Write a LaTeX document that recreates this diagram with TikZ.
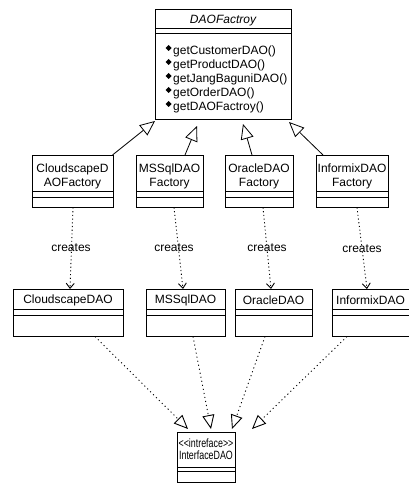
\documentclass[tikz,border=0pt]{standalone}
\usepackage{fontspec}
\setmainfont{Liberation Sans}
\newfontfamily\narrowfont[FakeStretch=0.74]{Liberation Sans}
\usetikzlibrary{arrows.meta}
\newcommand\classbox[7]{%
  \node[box, minimum width={#4-#2}, minimum height={#5-#3}] (#1) at ({(#2+#4)/2},{(#3+#5)/2}) {};
  \draw[sepline] (#2,#6) -- (#4,#6) (#2,#7) -- (#4,#7);}
\begin{document}
\begin{tikzpicture}[x=1pt,y=-1pt,
  box/.style={draw, line width=0.9pt, inner sep=0pt, outer sep=0pt},
  sepline/.style={line width=0.9pt},
  txt/.style={inner sep=0pt, font=\fontsize{12}{14}\selectfont, align=center},
  mtxt/.style={inner sep=0pt, font=\fontsize{12}{14}\selectfont, anchor=west},
  itxt/.style={inner sep=0pt, font=\narrowfont\fontsize{12}{12}\selectfont, align=center},
  inherit/.style={line width=0.8pt, -{Triangle[open, length=15pt, width=13pt]}},
  creates/.style={line width=0.9pt, dash pattern=on 1.1pt off 2.6pt, -{Straight Barb[length=5pt, width=8pt]}},
  realize/.style={line width=0.9pt, dash pattern=on 1.1pt off 3pt, -{Triangle[open, length=14pt, width=12pt]}},
  lbl/.style={inner sep=0pt, font=\fontsize{12}{14}\selectfont}]
\useasboundingbox (0,0) rectangle (409,484);
\fill[white] (0,0) rectangle (409,484);
\clip (0,0) rectangle (409,484);

% DAOFactroy
\classbox{DF}{155}{9}{291}{119}{28}{33}
\node[txt, font=\fontsize{12}{14}\selectfont\itshape] (DFt) at (223,20.5) {DAOFactroy};
\foreach \i/\t in {1/getCustomerDAO(),2/getProductDAO(),3/getJangBaguniDAO(),4/getOrderDAO(),5/getDAOFactroy()}{
  \pgfmathsetmacro\yy{51+14*(\i-1)}
  \node[mtxt] (m\i) at (173,\yy) {\t};
  \fill (168.5,\yy-6) -- ++(3,3) -- ++(-3,3) -- ++(-3,-3) -- cycle;
}

% factories
\classbox{CF}{32}{155}{113}{207}{191}{197}
\classbox{MF}{136}{155}{203}{207}{191}{197}
\classbox{OF}{225}{155}{293}{207}{191}{197}
\classbox{IF}{316}{155}{388}{207}{191}{197}
\node[txt] (CFt) at (72.5,176) {CloudscapeD\\AOFactory};
\node[txt] (MFt) at (169.5,176) {MSSqlDAO\\Factory};
\node[txt] (OFt) at (259,176) {OracleDAO\\Factory};
\node[txt] (IFt) at (352,176) {InformixDAO\\Factory};

% DAO classes
\classbox{CD}{13}{289}{123}{336}{309}{315}
\classbox{MD}{146}{289}{225}{336}{309}{315}
\classbox{OD}{235}{289}{312}{336}{309}{315}
\classbox{ID}{332}{289}{420}{336}{309}{315}
\node[txt] (CDt) at (68,300) {CloudscapeDAO};
\node[txt] (MDt) at (185.5,300) {MSSqlDAO};
\node[txt] (ODt) at (273.5,300) {OracleDAO};
\node[txt, anchor=west] (IDt) at (336,300) {InformixDAO};

% interface
\classbox{IN}{177}{432}{235}{482}{467}{471}
\node[itxt] (INt) at (206,449) {<\kern0pt<intreface>\kern0pt>\\InterfaceDAO};

% inheritance
\coordinate (t1) at (155,121);
\coordinate (t2) at (197,126);
\coordinate (t3) at (243,124);
\coordinate (t4) at (289,122);
\coordinate (s1) at (112.5,155);
\coordinate (s2) at (185,155);
\coordinate (s3) at (252,155);
\coordinate (s4) at (323,155);
\draw[inherit] (s1) -- (t1);
\draw[inherit] (s2) -- (t2);
\draw[inherit] (s3) -- (t3);
\draw[inherit] (s4) -- (t4);

% creates
\coordinate (c1a) at (73,207.5); \coordinate (c1b) at (70,289);
\coordinate (c2a) at (174,207.5); \coordinate (c2b) at (183,289);
\coordinate (c3a) at (263,207.5); \coordinate (c3b) at (271,289);
\coordinate (c4a) at (357,207.5); \coordinate (c4b) at (367,289);
\draw[creates] (c1a) -- (c1b);
\draw[creates] (c2a) -- (c2b);
\draw[creates] (c3a) -- (c3b);
\draw[creates] (c4a) -- (c4b);
\node[lbl] (l1) at (71,248) {creates};
\node[lbl] (l2) at (174,248) {creates};
\node[lbl] (l3) at (267,248) {creates};
\node[lbl] (l4) at (362,249) {creates};

% realization
\coordinate (r1a) at (95,336.5); \coordinate (r1b) at (188,429);
\coordinate (r2a) at (193,336.5); \coordinate (r2b) at (211,429);
\coordinate (r3a) at (265,336.5); \coordinate (r3b) at (232,429);
\coordinate (r4a) at (347,336.5); \coordinate (r4b) at (252,429);
\draw[realize] (r1a) -- (r1b);
\draw[realize] (r2a) -- (r2b);
\draw[realize] (r3a) -- (r3b);
\draw[realize] (r4a) -- (r4b);
\end{tikzpicture}
\end{document}
